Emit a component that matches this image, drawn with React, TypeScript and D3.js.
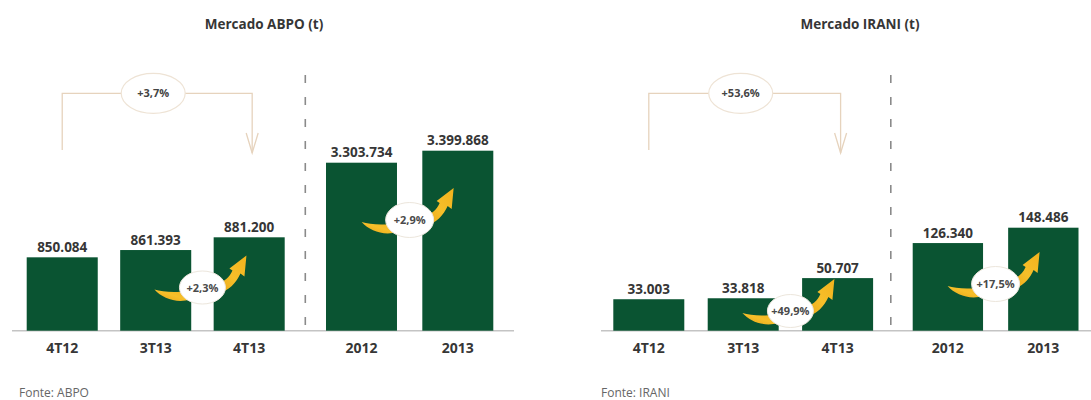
import React from "react";
import * as d3 from "d3";

// ---------- data ----------
const quarterCats = ["4T12", "3T13", "4T13"];
const yearCats = ["2012", "2013"];
const abpoQuarter = [850084, 861393, 881200];
const abpoYear = [3303734, 3399868];
const iraniQuarter = [33003, 33818, 50707];
const iraniYear = [126340, 148486];
const abpoGrowth = ["+3,7%", "+2,3%", "+2,9%"]; // 4T12->4T13, 3T13->4T13, 2012->2013
const iraniGrowth = ["+53,6%", "+49,9%", "+17,5%"];
const titles = ["Mercado ABPO (t)", "Mercado IRANI (t)"];
const sources = ["Fonte: ABPO", "Fonte: IRANI"];

// ---------- layout ----------
const W = 1091;
const H = 400;
const BASE_Y = 330.7;
const GREEN = "#0a5432";
const TEXT = "#363636";
const TAN = "#e6d3bd";
const FONT = "'Open Sans', 'DejaVu Sans', sans-serif";

const loc = d3.formatLocale({ decimal: ",", thousands: ".", grouping: [3], currency: ["R$", ""] });
const fmt = loc.format(",d");

type PanelLayout = {
  qRange: [number, number];
  yRange: [number, number];
  qPad: number;
  yPad: number;
  qDomainMin: number;
  qTopY: number;
  yDomainMin: number;
  yTopY: number;
  dashX: number;
  baseX: [number, number];
  titleX: number;
  sourceX: number;
  qSwooshY: number;
  ySwooshY: number;
};

const layouts: PanelLayout[] = [
  {
    qRange: [26.7, 284.7],
    yRange: [326, 493.3],
    qPad: 0.24,
    yPad: 0.263,
    qDomainMin: 736000,
    qTopY: 237.3,
    yDomainMin: 1957600,
    yTopY: 150.7,
    dashX: 305.3,
    baseX: [12, 514],
    titleX: 264,
    sourceX: 19,
    qSwooshY: 287.5,
    ySwooshY: 220,
  },
  {
    qRange: [613.3, 873.1],
    yRange: [912.7, 1078.5],
    qPad: 0.248,
    yPad: 0.263,
    qDomainMin: 6645,
    qTopY: 278.1,
    yDomainMin: 0,
    yTopY: 227.7,
    dashX: 890.8,
    baseX: [601, 1100],
    titleX: 860,
    sourceX: 601,
    qSwooshY: 311,
    ySwooshY: 284,
  },
];

const SWOOSH_TAIL =
  "M -48,2 C -40,4 -28,6 -14,3 L -12,12 C -26,16 -40,11 -48,2 Z";
const SWOOSH_HEAD =
  "M 14,-3 C 22,-6 27,-10 30,-17 L 27,-19 L 44,-32 L 42,-11 L 38,-14 C 34,-5 27,3 14,7 Z";

function Swoosh({ cx, cy, label, rx, ry }: { cx: number; cy: number; label: string; rx: number; ry: number }) {
  return (
    <g transform={`translate(${cx},${cy})`}>
      <path d={SWOOSH_TAIL} fill="url(#gold)" />
      <path d={SWOOSH_HEAD} fill="url(#gold)" />
      <ellipse cx={0} cy={0} rx={rx} ry={ry} fill="#ffffff" stroke="#ece6dc" strokeWidth={1} />
      <text x={0} y={4} textAnchor="middle" fontFamily={FONT} fontWeight={700} fontSize={11} fill="#4a4a4a">
        {label}
      </text>
    </g>
  );
}

function Panel({
  idx,
  quarter,
  year,
  growth,
}: {
  idx: number;
  quarter: number[];
  year: number[];
  growth: string[];
}) {
  const L = layouts[idx];
  const xQ = d3.scaleBand<string>().domain(quarterCats).range(L.qRange).paddingInner(L.qPad).paddingOuter(0);
  const xY = d3.scaleBand<string>().domain(yearCats).range(L.yRange).paddingInner(L.yPad).paddingOuter(0);
  const yQ = d3.scaleLinear().domain([L.qDomainMin, d3.max(quarter) as number]).range([BASE_Y, L.qTopY]);
  const yY = d3.scaleLinear().domain([L.yDomainMin, d3.max(year) as number]).range([BASE_Y, L.yTopY]);

  const bwQ = xQ.bandwidth();
  const bwY = xY.bandwidth();

  const bracketLeft = (xQ(quarterCats[0]) as number) + bwQ / 2;
  const bracketRight = (xQ(quarterCats[2]) as number) + bwQ / 2 + 3;
  const bracketY = 93.3;
  const ellX = (bracketLeft + bracketRight) / 2 - 4;

  const qSwX = ((xQ(quarterCats[1]) as number) + bwQ + (xQ(quarterCats[2]) as number)) / 2;
  const ySwX = ((xY(yearCats[0]) as number) + bwY + (xY(yearCats[1]) as number)) / 2;

  return (
    <g>
      <text x={L.titleX} y={29} textAnchor="middle" fontFamily={FONT} fontWeight={700} fontSize={13.5} fill={TEXT}>
        {titles[idx]}
      </text>

      {/* bracket */}
      <g stroke={TAN} strokeWidth={1.3} fill="none">
        <path d={`M ${bracketLeft},150 L ${bracketLeft},${bracketY} L ${bracketRight},${bracketY} L ${bracketRight},153`} />
        <path d={`M ${bracketRight - 6},133 L ${bracketRight},153 L ${bracketRight + 6},133`} />
      </g>
      <ellipse cx={ellX} cy={bracketY} rx={32} ry={20} fill="#ffffff" stroke="#eee3d5" strokeWidth={1.2} />
      <text x={ellX} y={bracketY + 4} textAnchor="middle" fontFamily={FONT} fontWeight={700} fontSize={11} fill="#444">
        {growth[0]}
      </text>

      {/* dashed separator */}
      <line x1={L.dashX} x2={L.dashX} y1={75} y2={BASE_Y} stroke="#8a8a8a" strokeWidth={1.6} strokeDasharray="8,14" />

      {/* baseline */}
      <line x1={L.baseX[0]} x2={L.baseX[1]} y1={BASE_Y} y2={BASE_Y} stroke="#c4c4c4" strokeWidth={1.5} />

      {/* quarter bars */}
      {quarterCats.map((c, i) => {
        const x = xQ(c) as number;
        const y = yQ(quarter[i]);
        return (
          <g key={c}>
            <rect x={x} y={y} width={bwQ} height={BASE_Y - y} fill={GREEN} />
            <text x={x + bwQ / 2} y={y - 5.5} textAnchor="middle" fontFamily={FONT} fontWeight={700} fontSize={13.5} fill={TEXT}>
              {fmt(quarter[i])}
            </text>
            <text x={x + bwQ / 2} y={353} textAnchor="middle" fontFamily={FONT} fontWeight={700} fontSize={14} fill={TEXT}>
              {c}
            </text>
          </g>
        );
      })}

      {/* year bars */}
      {yearCats.map((c, i) => {
        const x = xY(c) as number;
        const y = yY(year[i]);
        return (
          <g key={c}>
            <rect x={x} y={y} width={bwY} height={BASE_Y - y} fill={GREEN} />
            <text x={x + bwY / 2} y={y - 5.5} textAnchor="middle" fontFamily={FONT} fontWeight={700} fontSize={13.5} fill={TEXT}>
              {fmt(year[i])}
            </text>
            <text x={x + bwY / 2} y={353} textAnchor="middle" fontFamily={FONT} fontWeight={700} fontSize={14} fill={TEXT}>
              {c}
            </text>
          </g>
        );
      })}

      <Swoosh cx={qSwX} cy={L.qSwooshY} label={growth[1]} rx={23} ry={16.5} />
      <Swoosh cx={ySwX} cy={L.ySwooshY} label={growth[2]} rx={24} ry={17.5} />

      <text x={L.sourceX} y={397} fontFamily={FONT} fontSize={12} fill="#666">
        {sources[idx]}
      </text>
    </g>
  );
}

export default function App() {
  return (
    <svg
      width={W}
      height={H}
      viewBox={`0 0 ${W} ${H}`}
      style={{ position: "absolute", left: 0, top: 0, display: "block", background: "#ffffff" }}
    >
      <defs>
        <linearGradient id="gold" x1="0" y1="1" x2="1" y2="0">
          <stop offset="0%" stopColor="#e9a414" />
          <stop offset="50%" stopColor="#f6bf2a" />
          <stop offset="100%" stopColor="#f2b21c" />
        </linearGradient>
      </defs>
      <rect x={0} y={0} width={W} height={H} fill="#ffffff" />
      <Panel idx={0} quarter={abpoQuarter} year={abpoYear} growth={abpoGrowth} />
      <Panel idx={1} quarter={iraniQuarter} year={iraniYear} growth={iraniGrowth} />
    </svg>
  );
}
